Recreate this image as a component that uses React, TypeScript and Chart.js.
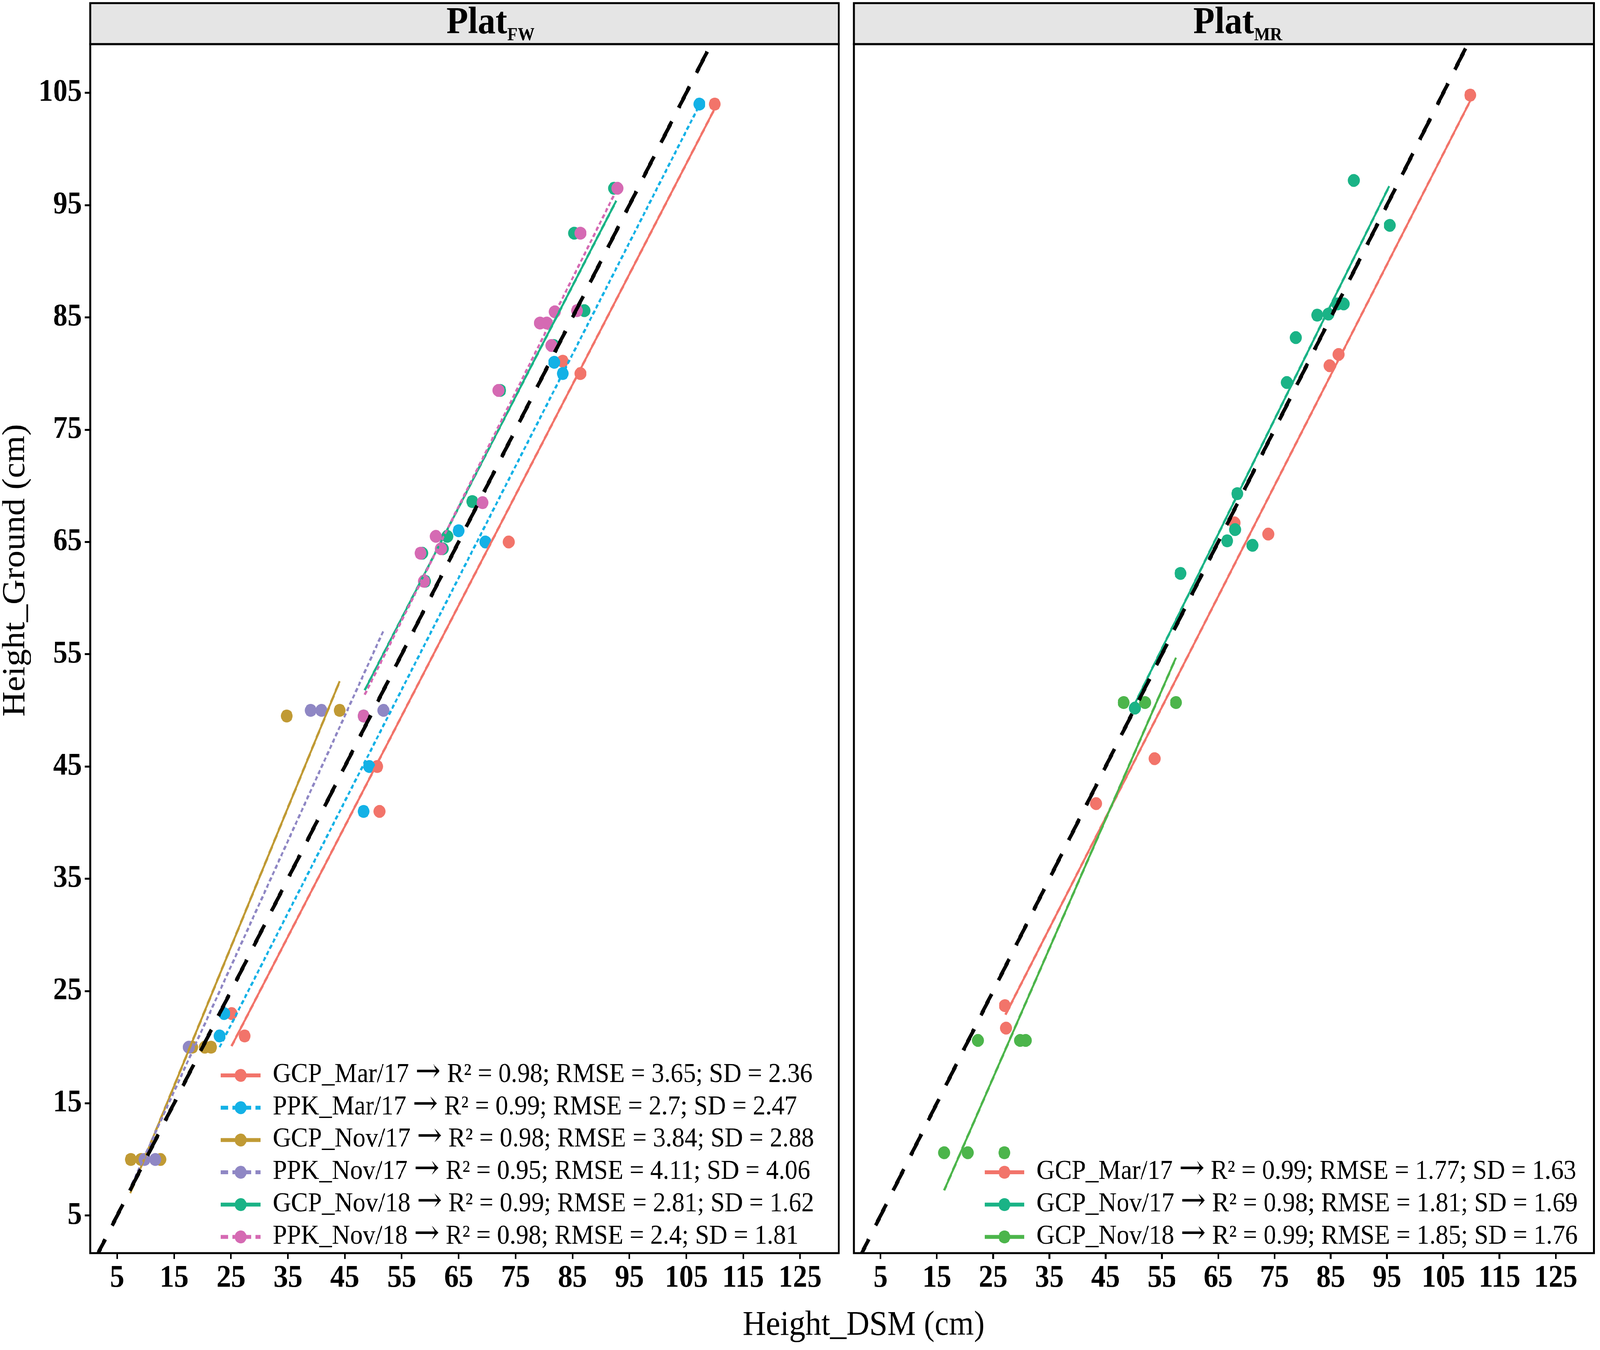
import React, { useEffect, useRef } from "react";
import { Chart, registerables } from "chart.js";

Chart.register(...registerables);

// ---------- axes ----------
const xTicks = [5, 15, 25, 35, 45, 55, 65, 75, 85, 95, 105, 115, 125];
const yTicks = [5, 15, 25, 35, 45, 55, 65, 75, 85, 95, 105];
const xLimits = [0.27, 131.8];
const yLimits = [1.66, 109.34];
const identityLine = [0.27, 131.8];
const xTitle = "Height_DSM (cm)";
const yTitle = "Height_Ground (cm)";

// ---------- colours ----------
const cRed = "#F2746A";
const cBlue = "#13B1E6";
const cGold = "#C09A34";
const cPurple = "#8F87C4";
const cTeal = "#1AB386";
const cPink = "#D56AB3";
const cGreen = "#4CB54B";

// ---------- Plat FW ----------
const fwNames = ["GCP_Mar/17", "PPK_Mar/17", "GCP_Nov/17", "PPK_Nov/17", "GCP_Nov/18", "PPK_Nov/18"];
const fwR2 = ["0.98", "0.99", "0.98", "0.95", "0.99", "0.98"];
const fwRmse = ["3.65", "2.7", "3.84", "4.11", "2.81", "2.4"];
const fwSd = ["2.36", "2.47", "2.88", "4.06", "1.62", "1.81"];

const fwGcpMar17X = [110.0, 83.3, 86.4, 73.8, 50.7, 51.1, 25.1, 27.4];
const fwGcpMar17Y = [104.0, 81.1, 80.0, 65.0, 45.0, 41.0, 23.0, 21.0];
const fwGcpMar17FitX = [25.1, 110.0];
const fwGcpMar17FitY = [20.1, 103.6];

const fwPpkMar17X = [107.3, 81.8, 83.3, 65.0, 69.7, 49.3, 48.3, 23.8, 23.0];
const fwPpkMar17Y = [104.0, 81.0, 80.0, 66.0, 65.0, 45.0, 41.0, 23.0, 21.0];
const fwPpkMar17FitX = [23.0, 107.3];
const fwPpkMar17FitY = [20.0, 103.9];

const fwGcpNov17X = [34.8, 44.1, 18.2, 20.4, 21.5, 7.4, 9.2, 12.6];
const fwGcpNov17Y = [49.5, 50.0, 20.0, 20.0, 20.0, 10.0, 10.0, 10.0];
const fwGcpNov17FitX = [7.3, 44.1];
const fwGcpNov17FitY = [7.0, 52.6];

const fwPpkNov17X = [39.0, 40.9, 51.8, 17.6, 9.8, 11.7];
const fwPpkNov17Y = [50.0, 50.0, 50.0, 20.0, 10.0, 10.0];
const fwPpkNov17FitX = [7.6, 51.8];
const fwPpkNov17FitY = [7.8, 57.1];

const fwGcpNov18X = [92.3, 85.3, 87.1, 81.7, 72.3, 67.4, 63.0, 62.2, 58.6, 59.1, 48.3];
const fwGcpNov18Y = [96.5, 92.5, 85.6, 82.5, 78.5, 68.6, 65.5, 64.4, 64.0, 61.5, 49.5];
const fwGcpNov18FitX = [48.5, 92.7];
const fwGcpNov18FitY = [51.8, 95.4];

const fwPpkNov18X = [92.9, 86.4, 81.9, 80.5, 79.3, 85.8, 81.3, 72.0, 69.2, 61.0, 61.9, 58.3, 58.9, 48.3];
const fwPpkNov18Y = [96.5, 92.5, 85.5, 84.5, 84.5, 85.6, 82.5, 78.5, 68.5, 65.5, 64.4, 64.0, 61.5, 49.5];
const fwPpkNov18FitX = [48.5, 92.4];
const fwPpkNov18FitY = [51.4, 96.0];

// ---------- Plat MR ----------
const mrNames = ["GCP_Mar/17", "GCP_Nov/17", "GCP_Nov/18"];
const mrR2 = ["0.99", "0.98", "0.99"];
const mrRmse = ["1.77", "1.81", "1.85"];
const mrSd = ["1.63", "1.69", "1.76"];

const mrGcpMar17X = [109.8, 86.4, 84.8, 67.9, 73.9, 53.7, 43.3, 27.1, 27.3];
const mrGcpMar17Y = [104.8, 81.7, 80.7, 66.7, 65.7, 45.7, 41.7, 23.7, 21.7];
const mrGcpMar17FitX = [27.2, 109.8];
const mrGcpMar17FitY = [22.9, 104.3];

const mrGcpNov17X = [89.1, 95.5, 86.2, 87.3, 82.6, 84.6, 78.8, 77.2, 68.4, 68.0, 66.6, 71.1, 58.3, 50.2];
const mrGcpNov17Y = [97.2, 93.2, 86.2, 86.2, 85.2, 85.3, 83.2, 79.2, 69.3, 66.1, 65.1, 64.7, 62.2, 50.2];
const mrGcpNov17FitX = [50.2, 95.4];
const mrGcpNov17FitY = [50.6, 96.7];

const mrGcpNov18X = [48.2, 52.0, 57.5, 22.3, 29.8, 30.8, 16.3, 20.5, 27.0];
const mrGcpNov18Y = [50.7, 50.7, 50.7, 20.6, 20.6, 20.6, 10.6, 10.6, 10.6];
const mrGcpNov18FitX = [16.3, 57.5];
const mrGcpNov18FitY = [7.25, 54.7];

// ---------- structures ----------
type Group = {
  name: string;
  r2: string;
  rmse: string;
  sd: string;
  color: string;
  dashed: boolean;
  xs: number[];
  ys: number[];
  fitX: number[];
  fitY: number[];
};

type Panel = {
  name: string;
  sub: string;
  titleShift: number;
  groups: Group[];
};

const fwPanel: Panel = {
  name: "Plat",
  sub: "FW",
  titleShift: 72,
  groups: [
    { name: fwNames[0], r2: fwR2[0], rmse: fwRmse[0], sd: fwSd[0], color: cRed, dashed: false, xs: fwGcpMar17X, ys: fwGcpMar17Y, fitX: fwGcpMar17FitX, fitY: fwGcpMar17FitY },
    { name: fwNames[1], r2: fwR2[1], rmse: fwRmse[1], sd: fwSd[1], color: cBlue, dashed: true, xs: fwPpkMar17X, ys: fwPpkMar17Y, fitX: fwPpkMar17FitX, fitY: fwPpkMar17FitY },
    { name: fwNames[2], r2: fwR2[2], rmse: fwRmse[2], sd: fwSd[2], color: cGold, dashed: false, xs: fwGcpNov17X, ys: fwGcpNov17Y, fitX: fwGcpNov17FitX, fitY: fwGcpNov17FitY },
    { name: fwNames[3], r2: fwR2[3], rmse: fwRmse[3], sd: fwSd[3], color: cPurple, dashed: true, xs: fwPpkNov17X, ys: fwPpkNov17Y, fitX: fwPpkNov17FitX, fitY: fwPpkNov17FitY },
    { name: fwNames[4], r2: fwR2[4], rmse: fwRmse[4], sd: fwSd[4], color: cTeal, dashed: false, xs: fwGcpNov18X, ys: fwGcpNov18Y, fitX: fwGcpNov18FitX, fitY: fwGcpNov18FitY },
    { name: fwNames[5], r2: fwR2[5], rmse: fwRmse[5], sd: fwSd[5], color: cPink, dashed: true, xs: fwPpkNov18X, ys: fwPpkNov18Y, fitX: fwPpkNov18FitX, fitY: fwPpkNov18FitY },
  ],
};

const mrPanel: Panel = {
  name: "Plat",
  sub: "MR",
  titleShift: 38,
  groups: [
    { name: mrNames[0], r2: mrR2[0], rmse: mrRmse[0], sd: mrSd[0], color: cRed, dashed: false, xs: mrGcpMar17X, ys: mrGcpMar17Y, fitX: mrGcpMar17FitX, fitY: mrGcpMar17FitY },
    { name: mrNames[1], r2: mrR2[1], rmse: mrRmse[1], sd: mrSd[1], color: cTeal, dashed: false, xs: mrGcpNov17X, ys: mrGcpNov17Y, fitX: mrGcpNov17FitX, fitY: mrGcpNov17FitY },
    { name: mrNames[2], r2: mrR2[2], rmse: mrRmse[2], sd: mrSd[2], color: cGreen, dashed: false, xs: mrGcpNov18X, ys: mrGcpNov18Y, fitX: mrGcpNov18FitX, fitY: mrGcpNov18FitY },
  ],
};

// ---------- layout constants ----------
const W = 4433;
const H = 3456;
const RIGHT_CANVAS_LEFT = 2338;
const STRIP_TOP = 8;
const AREA_TOP = 113;
const X_AXIS_H = 248;
const SERIF = '"Liberation Serif", "Times New Roman", serif';
const ARROW_FONT = '"DejaVu Serif", "DejaVu Sans", serif';

function buildDatasets(panel: Panel) {
  const ds: any[] = [];
  ds.push({
    label: "1:1",
    data: identityLine.map((v) => ({ x: v, y: v })),
    showLine: true,
    borderColor: "#000",
    borderWidth: 10,
    borderDash: [62, 40],
    borderDashOffset: -24,
    pointRadius: 0,
    fill: false,
    tension: 0,
    clip: 0,
    order: 0,
  });
  panel.groups.forEach((g, i) => {
    ds.push({
      label: g.name + " fit",
      data: g.fitX.map((x, k) => ({ x, y: g.fitY[k] })),
      showLine: true,
      borderColor: g.color,
      borderWidth: 6,
      borderDash: g.dashed ? [11, 7] : [],
      pointRadius: 0,
      fill: false,
      tension: 0,
      clip: 0,
      order: 100 - i,
    });
    ds.push({
      label: g.name,
      data: g.xs.map((x, k) => ({ x, y: g.ys[k] })),
      showLine: false,
      backgroundColor: g.color,
      borderColor: g.color,
      pointBackgroundColor: g.color,
      pointBorderWidth: 0,
      pointRadius: 16.5,
      pointHoverRadius: 16.5,
      order: 200 - i,
    });
  });
  return ds;
}

function makeDecor(panel: Panel, withTitles: boolean) {
  return {
    id: "decor",
    afterDraw(chart: any) {
      const { ctx, chartArea: a } = chart;
      ctx.save();
      ctx.setLineDash([]);
      // strip
      ctx.fillStyle = "#E5E5E5";
      ctx.fillRect(a.left, STRIP_TOP, a.right - a.left, a.top - STRIP_TOP);
      ctx.strokeStyle = "#000";
      ctx.lineWidth = 5;
      ctx.strokeRect(a.left, STRIP_TOP, a.right - a.left, a.top - STRIP_TOP);
      // panel border
      ctx.strokeRect(a.left, a.top, a.right - a.left, a.bottom - a.top);

      // strip title Plat_sub
      ctx.fillStyle = "#000";
      ctx.textBaseline = "alphabetic";
      ctx.textAlign = "left";
      const mainFont = `bold 98px ${SERIF}`;
      const subFont = `bold 47px ${SERIF}`;
      ctx.font = mainFont;
      const wMain = ctx.measureText(panel.name).width;
      ctx.font = subFont;
      const wSub = ctx.measureText(panel.sub).width;
      const cx = (a.left + a.right) / 2 + panel.titleShift;
      const sx = cx - (wMain + wSub) / 2;
      ctx.font = mainFont;
      ctx.fillText(panel.name, sx, 85);
      ctx.font = subFont;
      ctx.fillText(panel.sub, sx + wMain, 103);

      // legend
      const n = panel.groups.length;
      const keyX = a.left + 417;
      const textX = a.left + 506;
      const textFont = `70px ${SERIF}`;
      const arrowFont = `84px ${ARROW_FONT}`;
      panel.groups.forEach((g, i) => {
        const cy = a.bottom - 41.5 - (n - 1 - i) * 82.7;
        ctx.strokeStyle = g.color;
        ctx.lineWidth = 10;
        ctx.setLineDash(g.dashed ? [20, 12] : []);
        ctx.beginPath();
        ctx.moveTo(keyX - 55, cy);
        ctx.lineTo(keyX + 55, cy);
        ctx.stroke();
        ctx.setLineDash([]);
        ctx.fillStyle = g.color;
        ctx.beginPath();
        ctx.arc(keyX, cy, 16.5, 0, Math.PI * 2);
        ctx.fill();

        ctx.fillStyle = "#000";
        ctx.textAlign = "left";
        ctx.textBaseline = "alphabetic";
        const base = cy + 17;
        const part1 = `${g.name} `;
        const part3 = ` R\u00B2 = ${g.r2}; RMSE = ${g.rmse}; SD = ${g.sd}`;
        ctx.font = textFont;
        ctx.fillText(part1, textX, base);
        const w1 = ctx.measureText(part1).width;
        ctx.font = arrowFont;
        ctx.fillText("\u2192", textX + w1, base - 1);
        const w2 = ctx.measureText("\u2192").width;
        ctx.font = textFont;
        ctx.fillText(part3, textX + w1 + w2, base);
      });

      if (withTitles) {
        ctx.fillStyle = "#000";
        ctx.font = `89px ${SERIF}`;
        ctx.textAlign = "center";
        ctx.textBaseline = "middle";
        ctx.fillText(xTitle, 2393, 3394);
        ctx.save();
        ctx.translate(44, 1460);
        ctx.rotate(-Math.PI / 2);
        ctx.fillText(yTitle, 0, 0);
        ctx.restore();
      }
      ctx.restore();
    },
  };
}

function buildConfig(panel: Panel, isLeft: boolean, canvasWidth: number): any {
  const areaLeft = isLeft ? 250 : 2352 - RIGHT_CANVAS_LEFT;
  const areaRight = isLeft ? 2324 : 4428 - RIGHT_CANVAS_LEFT;
  const tickFont = { family: SERIF, size: 80, weight: "bold" as const };
  const grid = {
    display: true,
    drawOnChartArea: false,
    drawTicks: true,
    tickLength: 15,
    tickWidth: 5,
    tickColor: "#000",
    color: "#000",
    lineWidth: 5,
  };
  return {
    type: "scatter",
    data: { datasets: buildDatasets(panel) },
    options: {
      animation: false,
      responsive: false,
      maintainAspectRatio: false,
      devicePixelRatio: 1,
      events: [],
      layout: {
        padding: {
          top: AREA_TOP,
          bottom: 0,
          left: isLeft ? 0 : areaLeft,
          right: canvasWidth - areaRight,
        },
      },
      plugins: {
        legend: { display: false },
        tooltip: { enabled: false },
        title: { display: false },
      },
      scales: {
        x: {
          type: "linear",
          position: "bottom",
          min: xLimits[0],
          max: xLimits[1],
          afterBuildTicks: (s: any) => {
            s.ticks = xTicks.map((v) => ({ value: v }));
          },
          afterFit: (s: any) => {
            s.height = X_AXIS_H;
          },
          grid,
          border: { display: false },
          ticks: {
            font: tickFont,
            color: "#000",
            padding: 2,
            maxRotation: 0,
            minRotation: 0,
            autoSkip: false,
          },
        },
        y: {
          type: "linear",
          position: "left",
          display: isLeft,
          min: yLimits[0],
          max: yLimits[1],
          afterBuildTicks: (s: any) => {
            s.ticks = yTicks.map((v) => ({ value: v }));
          },
          afterFit: (s: any) => {
            s.width = areaLeft;
          },
          grid,
          border: { display: false },
          ticks: {
            font: tickFont,
            color: "#000",
            padding: 8,
            autoSkip: false,
          },
        },
      },
    },
    plugins: [makeDecor(panel, isLeft)],
  };
}

// The viewport may be narrower than the requested 4433 px; the figure is
// laid out in a fixed 4433 x 3456 frame and fitted to the viewport.
function viewScales(): [number, number] {
  if (typeof window === "undefined") return [1, 1];
  const vw = document.documentElement.clientWidth || window.innerWidth || W;
  const vh = window.innerHeight || document.documentElement.clientHeight || H;
  const sx = vw > 0 ? Math.min(1, vw / W) : 1;
  const sy = vh > 0 ? Math.min(1, vh / H) : 1;
  return [sx, sy];
}

export default function App() {
  const leftRef = useRef<HTMLCanvasElement | null>(null);
  const rightRef = useRef<HTMLCanvasElement | null>(null);
  const wrapRef = useRef<HTMLDivElement | null>(null);
  const innerRef = useRef<HTMLDivElement | null>(null);

  useEffect(() => {
    document.body.style.margin = "0";
    document.body.style.overflow = "hidden";
    const [sx, sy] = viewScales();
    if (wrapRef.current && innerRef.current) {
      wrapRef.current.style.width = `${W * sx}px`;
      wrapRef.current.style.height = `${H * sy}px`;
      innerRef.current.style.transform = `scale(${sx}, ${sy})`;
    }
    const rightW = W - RIGHT_CANVAS_LEFT;
    const left = new Chart(leftRef.current as HTMLCanvasElement, buildConfig(fwPanel, true, W));
    const right = new Chart(rightRef.current as HTMLCanvasElement, buildConfig(mrPanel, false, rightW));
    return () => {
      left.destroy();
      right.destroy();
    };
  }, []);

  const rightW = W - RIGHT_CANVAS_LEFT;
  return (
    <div ref={wrapRef} style={{ position: "relative", width: W, height: H, overflow: "hidden", background: "#fff" }}>
      <div
        ref={innerRef}
        style={{ position: "absolute", left: 0, top: 0, width: W, height: H, transformOrigin: "0 0", background: "#fff" }}
      >
        <canvas
          ref={leftRef}
          width={W}
          height={H}
          style={{ position: "absolute", left: 0, top: 0, width: W, height: H }}
        />
        <canvas
          ref={rightRef}
          width={rightW}
          height={H}
          style={{ position: "absolute", left: RIGHT_CANVAS_LEFT, top: 0, width: rightW, height: H }}
        />
      </div>
    </div>
  );
}
